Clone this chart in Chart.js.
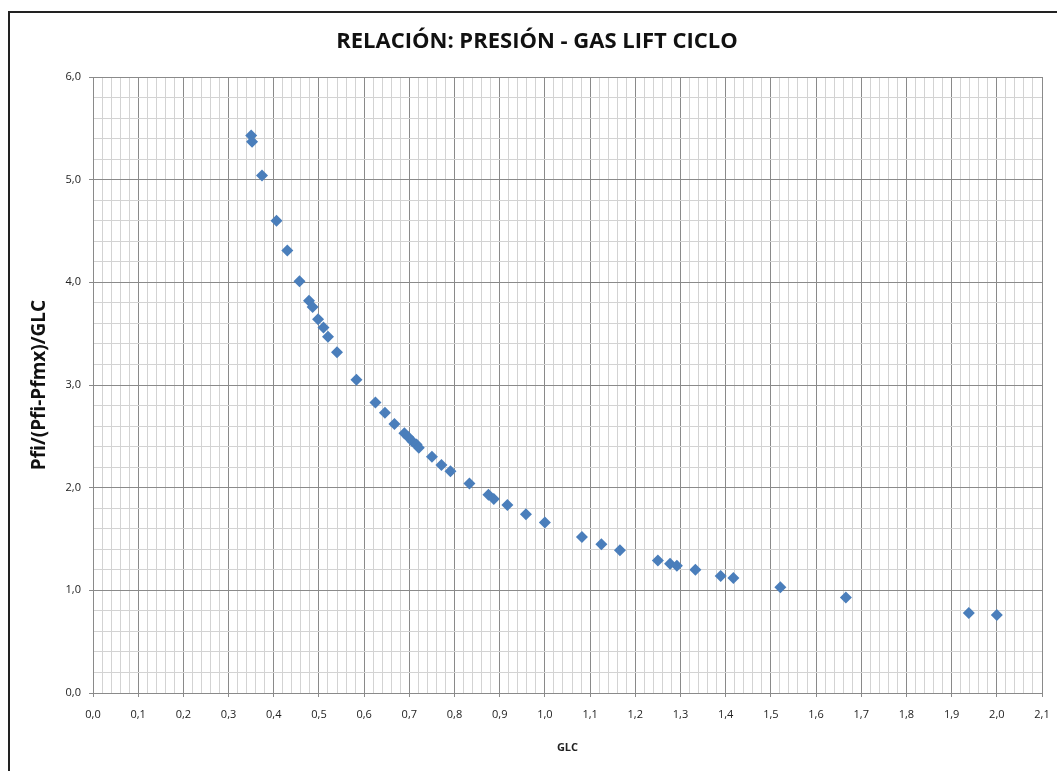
<!DOCTYPE html>
<html>
<head>
<meta charset="utf-8">
<script src="https://cdn.jsdelivr.net/npm/chart.js@4/dist/chart.umd.min.js"></script>
<style>
  html, body { margin: 0; padding: 0; background: #fff; }
  body { position: relative; width: 1057px; height: 771px; overflow: hidden; }
  #frame {
    position: absolute; left: 8px; top: 11px; width: 1100px; height: 800px;
    border-left: 2px solid #222; border-top: 2px solid #222;
  }
  #chart { position: absolute; left: 0; top: 0; }
</style>
</head>
<body>
<div id="frame"></div>
<canvas id="chart" width="1057" height="771"></canvas>
<script>
// GLC vs Pfi/(Pfi-Pfmx)/GLC
const glc = [0.350, 0.352, 0.374, 0.406, 0.430, 0.457, 0.478, 0.486, 0.498, 0.510,
             0.520, 0.540, 0.583, 0.625, 0.646, 0.667, 0.689, 0.698, 0.707, 0.716,
             0.721, 0.750, 0.771, 0.791, 0.833, 0.875, 0.887, 0.917, 0.958, 1.000,
             1.082, 1.125, 1.166, 1.250, 1.277, 1.292, 1.333, 1.389, 1.417, 1.521,
             1.666, 1.938, 2.000];
const ratio = [5.43, 5.37, 5.04, 4.60, 4.31, 4.01, 3.82, 3.76, 3.64, 3.56,
               3.47, 3.32, 3.05, 2.83, 2.73, 2.62, 2.53, 2.49, 2.45, 2.42,
               2.39, 2.30, 2.22, 2.16, 2.04, 1.93, 1.89, 1.83, 1.74, 1.66,
               1.52, 1.45, 1.39, 1.29, 1.26, 1.24, 1.20, 1.14, 1.12, 1.03,
               0.93, 0.78, 0.76];

// axis ranges: major / minor steps
const xRange = [0, 2.1], xMajor = 0.1, xMinor = 0.02;
const yRange = [0, 6], yMajor = 1, yMinor = 0.2;

const MAJOR_GRID = '#8a8a8a';
const MINOR_GRID = '#d3d3d3';

function isMajor(v, step) {
    const n = v / step;
    return Math.abs(n - Math.round(n)) < 1e-6;
}

function commaLabel(v) {
    return v.toFixed(1).replace('.', ',');
}

function gridFor(step) {
    return {
        color: ctx => isMajor(ctx.tick.value, step) ? MAJOR_GRID : MINOR_GRID,
        tickColor: ctx => isMajor(ctx.tick.value, step) ? MAJOR_GRID : 'rgba(0,0,0,0)',
        tickLength: 4,
        lineWidth: 1
    };
}

const points = glc.map((x, i) => ({ x, y: ratio[i] }));

new Chart(document.getElementById('chart'), {
    type: 'scatter',
    data: {
        datasets: [{
            data: points,
            pointStyle: 'rectRot',
            pointRadius: 6,
            pointHoverRadius: 6,
            backgroundColor: '#4a7ebb',
            borderColor: '#4a7ebb',
            borderWidth: 0
        }]
    },
    options: {
        responsive: false,
        animation: false,
        // left padding shifts the centred title to the right of the plot
        layout: { padding: { left: 32, right: 15, top: 0, bottom: 0 } },
        plugins: {
            legend: { display: false },
            tooltip: { enabled: false },
            title: {
                display: true,
                text: 'RELACIÓN: PRESIÓN - GAS LIFT CICLO',
                color: '#111',
                font: { family: 'Open Sans', size: 22, weight: 'bold', lineHeight: 1.2 },
                padding: { top: 29, bottom: 77 - 29 - 22 * 1.2 }
            }
        },
        scales: {
            x: {
                type: 'linear',
                min: xRange[0],
                max: xRange[1],
                ticks: {
                    stepSize: xMinor,
                    autoSkip: false,
                    maxRotation: 0,
                    padding: 11,
                    color: '#222',
                    font: { family: 'Open Sans', size: 11 },
                    callback: v => isMajor(v, xMajor) ? commaLabel(v) : ''
                },
                grid: gridFor(xMajor),
                border: { color: MAJOR_GRID },
                title: {
                    display: true,
                    text: 'GLC',
                    color: '#222',
                    font: { family: 'Open Sans', size: 11, weight: 'bold', lineHeight: 1.2 },
                    padding: { top: 0, bottom: 17 }
                },
                afterFit: scale => {
                    scale.height = 78;
                    // last label only needs half its width past the plot edge
                    scale.paddingRight = 8;
                }
            },
            y: {
                type: 'linear',
                min: yRange[0],
                max: yRange[1],
                ticks: {
                    stepSize: yMinor,
                    autoSkip: false,
                    padding: 8,
                    color: '#222',
                    font: { family: 'Open Sans', size: 11 },
                    callback: v => isMajor(v, yMajor) ? commaLabel(v) : ''
                },
                grid: gridFor(yMajor),
                border: { color: MAJOR_GRID },
                title: {
                    display: true,
                    text: 'Pfi/(Pfi-Pfmx)/GLC',
                    color: '#111',
                    font: { family: 'Open Sans', size: 19, weight: 'bold', lineHeight: 0.8 },
                    padding: { top: 0, bottom: 0 }
                },
                afterFit: scale => { scale.width = 61; }
            }
        }
    }
});
</script>
</body>
</html>
